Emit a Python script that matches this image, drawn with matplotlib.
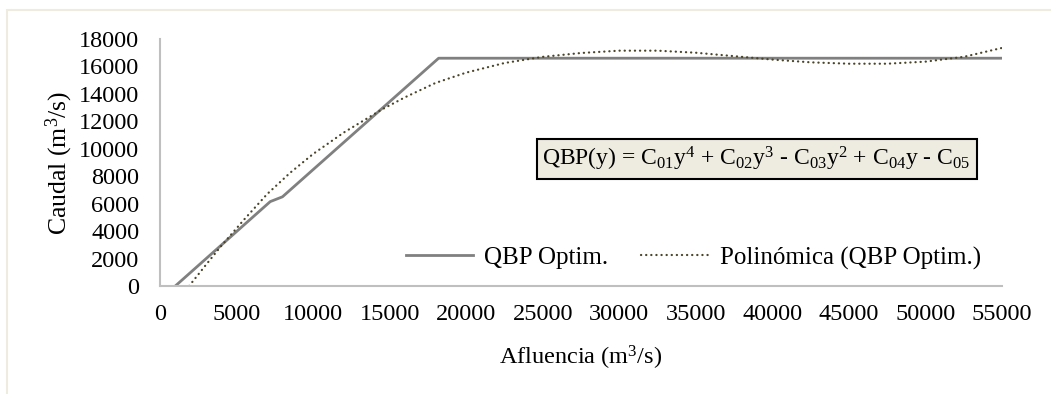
import matplotlib
matplotlib.use("Agg")
import matplotlib.pyplot as plt
from matplotlib.patches import Rectangle

plt.rcParams["font.family"] = ["Liberation Serif", "DejaVu Serif"]
plt.rcParams["mathtext.fontset"] = "custom"
plt.rcParams["mathtext.rm"] = "Liberation Serif"
plt.rcParams["mathtext.it"] = "Liberation Serif"

# QBP Optim.
qbp_x = [1000, 7200, 8000, 18200, 25000, 35000, 45000, 55000]
qbp_y = [0, 6150, 6500, 16600, 16600, 16600, 16600, 16600]

# Polinómica (QBP Optim.) trendline
poly_x = [1900, 2500, 3000, 4000, 5500, 7000, 8500, 10000, 12000, 14500, 16000,
          18000, 20000, 22500, 25000, 27500, 30000, 32500, 35000, 37500, 40000,
          42500, 45000, 47500, 50000, 52500, 55000]
poly_y = [0, 840, 1540, 2920, 4850, 6700, 8250, 9620, 11180, 12870, 13750,
          14800, 15550, 16250, 16700, 16980, 17150, 17150, 17000, 16750, 16500,
          16300, 16200, 16200, 16350, 16700, 17350]

x_ticks = list(range(0, 55001, 5000))
y_ticks = list(range(0, 18001, 2000))

fig = plt.figure(figsize=(10.51, 3.94), dpi=100)
fig.patches.append(Rectangle((7 / 1051, -0.1), 1.2, (384 / 394) + 0.1,
                             transform=fig.transFigure, fill=False,
                             edgecolor="#EEECE1", linewidth=1.5))

ax = fig.add_axes([160 / 1051, 1 - 286 / 394, 842 / 1051, 247 / 394])

ax.plot(qbp_x, qbp_y, color="#808080", linewidth=2.0, label="QBP Optim.",
        solid_joinstyle="round")
ax.plot(poly_x, poly_y, color="#4A4528", linewidth=1.6, linestyle=(0, (0.1, 2.2)),
        dash_capstyle="round", label="Polinómica (QBP Optim.)")

ax.set_xlim(0, 55000)
ax.set_ylim(0, 18000)
ax.set_xticks(x_ticks)
ax.set_yticks(y_ticks)
ax.tick_params(length=0, labelsize=17.5)
ax.tick_params(axis="y", pad=15)
ax.tick_params(axis="x", pad=13)
for s in ["top", "right"]:
    ax.spines[s].set_visible(False)
for s in ["left", "bottom"]:
    ax.spines[s].set_color("#BFBFBF")
    ax.spines[s].set_linewidth(1.5)

ax.set_xlabel("Afluencia (m$^3$/s)", fontsize=17.5, va="center")
ax.xaxis.set_label_coords(0.5, -0.29)
ax.set_ylabel("Caudal (m$^3$/s)", fontsize=18.5, va="center")
ax.yaxis.set_label_coords(-0.119, 0.5)

ax.legend(loc="center right", bbox_to_anchor=(0.975, 0.113), ncol=2,
          frameon=False, fontsize=18, handlelength=2.7, columnspacing=1.3,
          handletextpad=0.45, borderpad=0, borderaxespad=0)

ax.text(0.963, 0.516,
        "QBP(y) = C$_{01}$y$^4$ + C$_{02}$y$^3$ - C$_{03}$y$^2$ + C$_{04}$y - C$_{05}$",
        transform=ax.transAxes, ha="right", va="center", fontsize=17,
        bbox=dict(boxstyle="square,pad=0.25", facecolor="#EEECE1",
                  edgecolor="black", linewidth=1.5))

fig.savefig("out.png", dpi=100)
